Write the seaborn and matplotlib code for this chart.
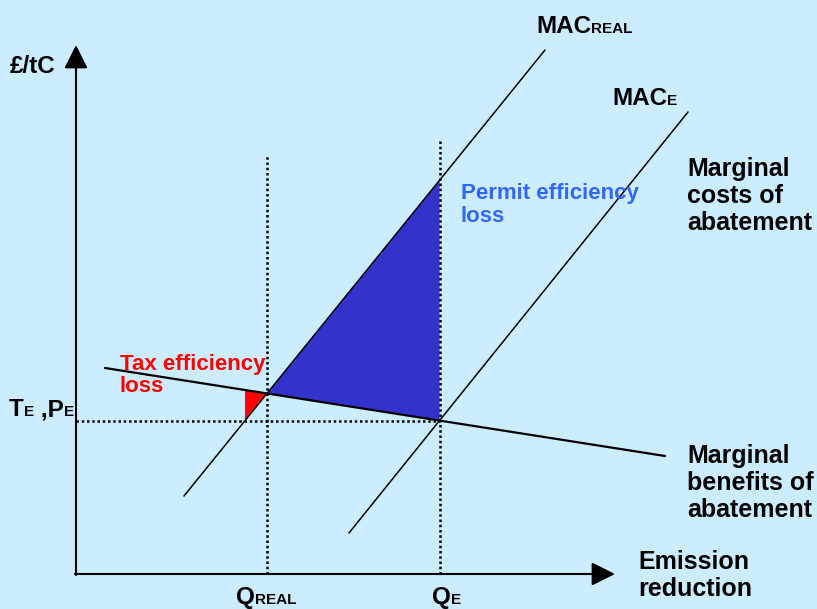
import numpy as np
import matplotlib
matplotlib.use('Agg')
import matplotlib.pyplot as plt
import seaborn as sns

sns.set_theme(style='white')
plt.rcParams['font.family'] = ['Liberation Sans', 'DejaVu Sans']
plt.rcParams['font.weight'] = 'bold'
plt.rcParams['text.color'] = 'black'

# Diagram coordinates (canvas units, y upwards)
mb_x = [105, 665]
mb_y = [241, 153]
mac_real_x = [184, 545]
mac_real_y = [113, 559]
mac_e_x = [349, 688]
mac_e_y = [76, 497]

origin = (76, 35)
y_axis_top = 564
x_axis_end = 615
q_real_top = 454
q_e_top = 469

bg = '#CCECFF'


def line_fn(xs, ys):
    slope = (ys[1] - ys[0]) / (xs[1] - xs[0])
    return lambda x: ys[0] + slope * (x - xs[0]), slope


def intersect(xs1, ys1, xs2, ys2):
    f1, s1 = line_fn(xs1, ys1)
    f2, s2 = line_fn(xs2, ys2)
    x = (f2(0) - f1(0)) / (s1 - s2)
    return x, f1(x)


mb, _ = line_fn(mb_x, mb_y)
mac_real, mr_slope = line_fn(mac_real_x, mac_real_y)

q_real, p_real = intersect(mb_x, mb_y, mac_real_x, mac_real_y)
q_e, p_e = intersect(mb_x, mb_y, mac_e_x, mac_e_y)
# quantity where MAC_REAL equals the tax level
q_tax = mac_real_x[0] + (p_e - mac_real_y[0]) / mr_slope

fig = plt.figure(figsize=(8.17, 6.09), dpi=100)
fig.patch.set_facecolor(bg)
ax = fig.add_axes([0, 0, 1, 1])
ax.set_facecolor(bg)
ax.set_xlim(0, 817)
ax.set_ylim(0, 609)
ax.axis('off')

# efficiency loss triangles
ax.fill([q_real, q_e, q_e], [p_real, mac_real(q_e), p_e], color='#3333CC', lw=0, zorder=1)
ax.fill([q_tax, q_real, q_tax], [mb(q_tax), p_real, p_e], color='#FF0000', lw=0, zorder=1)

# dotted guide lines
dots = dict(color='black', lw=1.8, linestyle=(0, (1, 1.1)), zorder=2)
ax.plot([q_real, q_real], [origin[1], q_real_top], **dots)
ax.plot([q_e, q_e], [origin[1], q_e_top], **dots)
ax.plot([origin[0], q_e], [p_e, p_e], **dots)

# curves
sns.lineplot(x=mb_x, y=mb_y, ax=ax, color='black', lw=1.6, sort=False, zorder=3)
sns.lineplot(x=mac_real_x, y=mac_real_y, ax=ax, color='black', lw=1.1, sort=False, zorder=3)
sns.lineplot(x=mac_e_x, y=mac_e_y, ax=ax, color='black', lw=1.1, sort=False, zorder=3)

# axes with arrow heads
arrow = dict(arrowstyle='-|>,head_length=0.4,head_width=0.2', mutation_scale=36,
             lw=1.5, color='black', shrinkA=0, shrinkB=0)
ax.annotate('', xy=(origin[0], y_axis_top), xytext=(origin[0], origin[1] - 1), arrowprops=arrow)
ax.annotate('', xy=(x_axis_end, origin[1]), xytext=(origin[0] - 1, origin[1]), arrowprops=arrow)

renderer = fig.canvas.get_renderer()


def chain_text(x, y, parts, color='black'):
    for s, size in parts:
        t = ax.text(x, y, s, fontsize=size, fontweight='bold', color=color, va='baseline', ha='left')
        bb = t.get_window_extent(renderer).transformed(ax.transData.inverted())
        x = bb.x1


big, small = 17.5, 11
chain_text(10, 536, [('£/tC', big)])
chain_text(536, 576, [('MAC', big), ('REAL', small)])
chain_text(612, 504, [('MAC', big), ('E', small)])
chain_text(9, 193, [('T', big), ('E', small), (' ,P', big), ('E', small)])
chain_text(236, 5, [('Q', big), ('REAL', small)])
chain_text(432, 5, [('Q', big), ('E', small)])

# multi-line labels: y is the baseline of the last line
label = dict(fontsize=18, fontweight='bold', color='black', va='baseline', ha='left',
             linespacing=1.15)
ax.text(687, 379, 'Marginal\ncosts of\nabatement', **label)
ax.text(687, 92, 'Marginal\nbenefits of\nabatement', **label)
ax.text(638, 13, 'Emission\nreduction', **label)
ax.text(120, 217, 'Tax efficiency\nloss', fontsize=16, fontweight='bold', color='#FF0000',
        va='baseline', ha='left', linespacing=1.05)
ax.text(461, 387, 'Permit efficiency\nloss', fontsize=16, fontweight='bold', color='#3366FF',
        va='baseline', ha='left', linespacing=1.15)

fig.savefig('out.png', dpi=100, facecolor=bg)
